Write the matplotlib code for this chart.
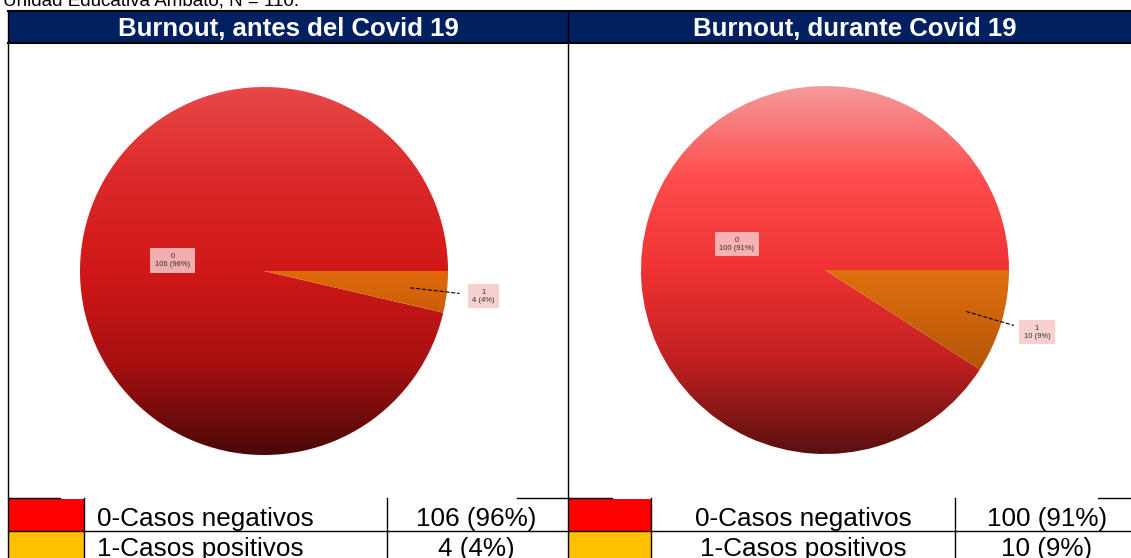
import matplotlib.pyplot as plt
import numpy as np
from matplotlib.colors import LinearSegmentedColormap
from matplotlib.patches import Rectangle

# datos
titulos = ["Burnout, antes del Covid 19", "Burnout, durante Covid 19"]
categorias = ["0", "1"]
etiquetas = ["0-Casos negativos", "1-Casos positivos"]
antes = [106, 4]
durante = [100, 10]
colores_tabla = ["#ff0000", "#ffc000"]

plt.rcParams["font.family"] = ["Liberation Sans", "DejaVu Sans"]

W, H = 1131, 558
fig = plt.figure(figsize=(W / 100, H / 100), dpi=100)
base = fig.add_axes([0, 0, 1, 1])
base.set_xlim(0, W)
base.set_ylim(H, 0)
base.axis("off")

# texto de arriba (cortado en la referencia)
base.text(3, 6, "Unidad Educativa Ambato, N = 110.", fontsize=13.5, va="baseline", ha="left", color="black")

# cabecera
base.add_patch(Rectangle((8, 11), W - 8, 32, facecolor="#002060", edgecolor="none"))
base.plot([8, W], [11, 11], color="black", lw=1.5)
base.plot([8, W], [43, 43], color="black", lw=1.5)
base.text(288, 36, titulos[0], color="white", fontsize=18.5, fontweight="bold", ha="center", va="baseline")
base.text(855, 36, titulos[1], color="white", fontsize=18.5, fontweight="bold", ha="center", va="baseline")

# lineas verticales
base.plot([8, 8], [11, H], color="black", lw=1)
base.plot([568, 568], [11, H], color="black", lw=1)

# gradientes
grad_rojo = [
    LinearSegmentedColormap.from_list("r1", ["#e84848", "#dc2828", "#d01818", "#a81010", "#4a0808"]),
    LinearSegmentedColormap.from_list("r2", ["#f49a9a", "#ff4c4c", "#f03232", "#c02020", "#5a1010"]),
]
grad_naranja = [
    LinearSegmentedColormap.from_list("o1", ["#ff9a40", "#f07818", "#e06a0a", "#b05008", "#6a2a00"]),
    LinearSegmentedColormap.from_list("o2", ["#ffa050", "#f07a14", "#e07010", "#b85808", "#6a2a00"]),
]

centros = [(264, 271), (825, 270)]
radio = 184
grad = np.linspace(0, 1, 256).reshape(-1, 1)

for i, datos in enumerate([antes, durante]):
    cx, cy = centros[i]
    ax = fig.add_axes([(cx - radio) / W, (H - cy - radio) / H, 2 * radio / W, 2 * radio / H])
    wedges, _ = ax.pie(datos, startangle=0, counterclock=True, radius=1,
                       colors=["none", "none"], wedgeprops=dict(linewidth=0))
    for w, cmap in zip(wedges, [grad_rojo[i], grad_naranja[i]]):
        im = ax.imshow(grad, cmap=cmap, extent=(-1, 1, -1, 1), aspect="auto", origin="upper")
        im.set_clip_path(w)
    ax.set_xlim(-1, 1)
    ax.set_ylim(-1, 1)
    ax.axis("off")

    total = sum(datos)
    # etiquetas en el pie
    for j, (w, n) in enumerate(zip(wedges, datos)):
        ang = np.deg2rad((w.theta1 + w.theta2) / 2)
        txt = f"{categorias[j]}\n{n} ({n / total * 100:.0f}%)"
        if j == 0:
            x, y = 0.5 * np.cos(ang), 0.5 * np.sin(ang)
        else:
            x, y = 1.2 * np.cos(ang), 1.2 * np.sin(ang)
            ax.plot([0.8 * np.cos(ang), 1.07 * np.cos(ang)], [0.8 * np.sin(ang), 1.07 * np.sin(ang)],
                    color="black", lw=0.8, ls="--", clip_on=False)
        ax.text(x, y, txt, fontsize=5.5, ha="center", va="center", color="#333333", clip_on=False,
                bbox=dict(boxstyle="square,pad=0.6", facecolor="#f8c8c8", edgecolor="none", alpha=0.85))

# tabla de abajo
y1, y2, y3 = 498, 531, H
for px, sw_r in [(8, 84), (568, 651)]:
    for k, c in enumerate(colores_tabla):
        yy = [y1, y2][k]
        base.add_patch(Rectangle((px + 0.5, yy + 0.5), sw_r - px - 1, [y2, y3][k] - yy - 1, facecolor=c, edgecolor="none"))
    base.plot([sw_r, sw_r], [y1, H], color="black", lw=1)

base.plot([8, 60], [y1, y1], color="black", lw=1)
base.plot([517, 568], [y1, y1], color="black", lw=1)
base.plot([568, 612], [y1, y1], color="black", lw=1)
base.plot([1098, W], [y1, y1], color="black", lw=1)
base.plot([8, W], [y2, y2], color="black", lw=1)
base.plot([387, 387], [y1, H], color="black", lw=1)
base.plot([955, 955], [y1, H], color="black", lw=1)

for k in range(2):
    yb = [526, 556][k]
    base.text(97, yb, etiquetas[k], fontsize=18.8, ha="left", va="baseline")
    base.text(803, yb, etiquetas[k], fontsize=18.8, ha="center", va="baseline")
    base.text(476, yb, f"{antes[k]} ({antes[k] / sum(antes) * 100:.0f}%)", fontsize=18.8, ha="center", va="baseline")
    base.text(1047, yb, f"{durante[k]} ({durante[k] / sum(durante) * 100:.0f}%)", fontsize=18.8, ha="center", va="baseline")

fig.savefig("out.png", dpi=100)
